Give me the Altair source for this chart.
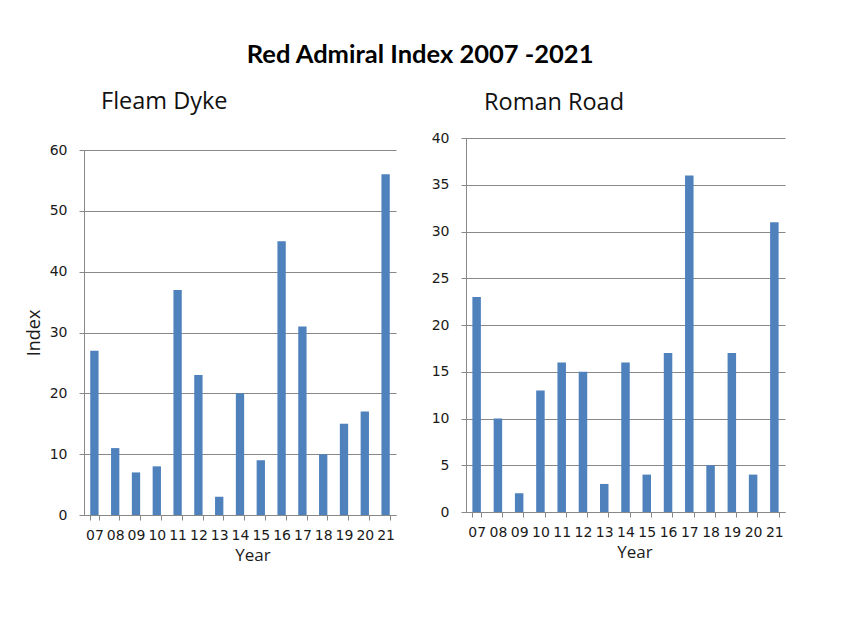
import altair as alt
import pandas as pd

years = ["07", "08", "09", "10", "11", "12", "13", "14", "15", "16", "17", "18", "19", "20", "21"]
fleam_dyke = [27, 11, 7, 8, 37, 23, 3, 20, 9, 45, 31, 10, 15, 17, 56]
roman_road = [23, 10, 2, 13, 16, 15, 3, 16, 4, 17, 36, 5, 17, 4, 31]

TFONT = "Open Sans"
LFONT = "DejaVu Sans"
BAR = "#4F81BD"
GRID = "#888888"
TXT = "#1a1a1a"

df_f = pd.DataFrame({"Year": years, "Index": fleam_dyke})
df_r = pd.DataFrame({"Year": years, "Index": roman_road})


def xaxis(w, shift):
    return alt.Axis(
        title="Year", labelAngle=0, labelFontSize=14, labelColor=TXT,
        titleFontSize=17, titleFontWeight="normal", titleColor=TXT,
        titlePadding=5, labelPadding=8, tickSize=5, tickColor=GRID,
        domainColor=GRID, tickBand="extent", grid=False, titleX=w / 2 + shift,
        labelFont=LFONT, titleFont=TFONT,
    )


# left panel: 377 px tall view, value axis runs from 377 (0) up to 12 (60)
left = alt.Chart(df_f).mark_bar(color=BAR).encode(
    x=alt.X("Year:N", sort=years,
            scale=alt.Scale(paddingInner=0.6, paddingOuter=0.3),
            axis=xaxis(313, 12)),
    y=alt.Y("Index:Q", scale=alt.Scale(domain=[0, 60], range=[377, 12]),
            axis=alt.Axis(values=[0, 10, 20, 30, 40, 50, 60], title="Index",
                          labelFontSize=14, labelColor=TXT,
                          titleFontSize=18, titleFontWeight="normal",
                          titleColor=TXT, titlePadding=6,
                          labelPadding=12, tickSize=5, tickColor=GRID,
                          domainColor=GRID, gridColor=GRID,
                          labelFont=LFONT, titleFont=TFONT)),
).properties(
    width=312, height=377,
    title=alt.TitleParams("Fleam Dyke", anchor="start", frame="group", dx=17,
                          fontSize=23.5, fontWeight="normal", font=TFONT,
                          color="#111111", offset=25),
)

right = alt.Chart(df_r).mark_bar(color=BAR).encode(
    x=alt.X("Year:N", sort=years,
            scale=alt.Scale(paddingInner=0.6, paddingOuter=0.3),
            axis=xaxis(319, 9)),
    y=alt.Y("Index:Q", scale=alt.Scale(domain=[0, 40]),
            axis=alt.Axis(values=[0, 5, 10, 15, 20, 25, 30, 35, 40], title=None,
                          labelFontSize=14, labelColor=TXT,
                          labelPadding=12, tickSize=5, tickColor=GRID,
                          domainColor=GRID, gridColor=GRID, labelFont=LFONT)),
).properties(
    width=319, height=374,
    title=alt.TitleParams("Roman Road", anchor="start", frame="group", dx=18,
                          fontSize=23.5, fontWeight="normal", font=TFONT,
                          color="#111111", offset=17),
)

chart = alt.hconcat(left, right, spacing=35).properties(
    title=alt.TitleParams("Red Admiral Index 2007 -2021", anchor="middle",
                          fontSize=25.5, fontWeight="bold", font="Lato",
                          color="#000000", dx=15, offset=21),
    padding={"left": 17, "top": 35, "right": 5, "bottom": 5},
    background="white",
).configure_view(stroke=None)

chart.save("out.html", embed_options={"renderer": "svg", "actions": False})
